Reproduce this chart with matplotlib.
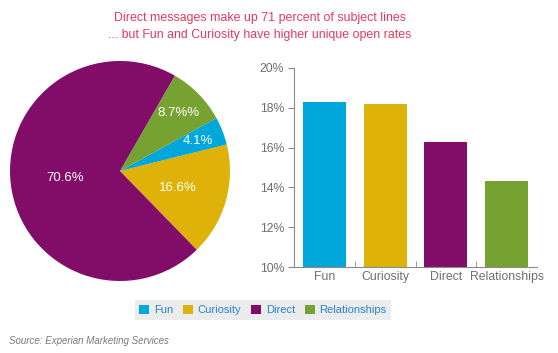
import matplotlib
matplotlib.use("Agg")
import matplotlib.pyplot as plt
import numpy as np
from matplotlib.patches import Patch

plt.rcParams["font.family"] = ["Liberation Sans", "DejaVu Sans"]

# pie: share of subject lines (counter-clockwise from lower right)
PIE_CATS = ["Curiosity", "Fun", "Relationships", "Direct"]
PIE_VALUES = [16.6, 4.1, 8.7, 70.6]
PIE_LABELS = ["16.6%", "4.1%", "8.7%%", "70.6%"]

# bars: unique open rate
BAR_CATS = ["Fun", "Curiosity", "Direct", "Relationships"]
BAR_VALUES = [18.3, 18.2, 16.3, 14.3]
Y_TICKS = [10, 12, 14, 16, 18, 20]

COLORS = {
    "Fun": "#00A7DA",
    "Curiosity": "#DEB208",
    "Direct": "#820D69",
    "Relationships": "#76A232",
}
TITLE_COLOR = "#E6395E"
AXIS_GRAY = "#8A8A8A"
TEXT_GRAY = "#6E6E6E"

W, H = 558, 353
fig = plt.figure(figsize=(W / 100, H / 100), dpi=100)
fig.patch.set_facecolor("white")

fig.text(260 / W, 1 - 18 / H, "Direct messages make up 71 percent of subject lines",
         ha="center", va="center", color=TITLE_COLOR, fontsize=8.9)
fig.text(260 / W, 1 - 35 / H, "... but Fun and Curiosity have higher unique open rates",
         ha="center", va="center", color=TITLE_COLOR, fontsize=8.9)

# ---- pie ----
ax_pie = fig.add_axes([10 / W, (H - 281) / H, 220 / W, 220 / H])
start = 14.0 - PIE_VALUES[0] * 3.6
wedges, _ = ax_pie.pie(PIE_VALUES, colors=[COLORS[c] for c in PIE_CATS],
                       startangle=start, counterclock=True,
                       wedgeprops=dict(linewidth=0))
ax_pie.set_aspect("equal")
ax_pie.set_xlim(-1, 1)
ax_pie.set_ylim(-1, 1)
label_r = [0.55, 0.76, 0.75, 0.5]
for w, lab, r in zip(wedges, PIE_LABELS, label_r):
    mid = np.deg2rad((w.theta1 + w.theta2) / 2)
    ax_pie.text(r * np.cos(mid), r * np.sin(mid), lab, ha="center", va="center",
                color="white", fontsize=9.5)

# ---- bars ----
ax = fig.add_axes([294 / W, (H - 267) / H, 243 / W, 199 / H])
x = np.arange(len(BAR_CATS))
ax.bar(x, BAR_VALUES, width=0.71, color=[COLORS[c] for c in BAR_CATS], bottom=0)
ax.set_xlim(-0.5, len(BAR_CATS) - 0.5)
ax.set_ylim(Y_TICKS[0], Y_TICKS[-1])
ax.set_yticks(Y_TICKS)
ax.set_yticklabels([f"{t}%" for t in Y_TICKS])
ax.set_xticks(x)
ax.set_xticklabels(BAR_CATS)
ax.set_xticks(x[:-1] + 0.5, minor=True)
ax.tick_params(axis="x", which="major", length=0, pad=3, labelsize=8.8, colors=TEXT_GRAY)
ax.tick_params(axis="x", which="minor", direction="in", length=4, color=AXIS_GRAY)
ax.tick_params(axis="y", direction="out", length=4, color=AXIS_GRAY,
               labelsize=8.8, labelcolor=TEXT_GRAY, pad=3)
for s in ("top", "right"):
    ax.spines[s].set_visible(False)
for s in ("left", "bottom"):
    ax.spines[s].set_color(AXIS_GRAY)
    ax.spines[s].set_linewidth(0.8)

# ---- legend ----
handles = [Patch(facecolor=COLORS[c], edgecolor="none") for c in BAR_CATS]
leg = fig.legend(handles, BAR_CATS, loc="center", bbox_to_anchor=(263 / W, 1 - 310 / H),
                 ncol=4, frameon=True, fancybox=False, fontsize=8,
                 handlelength=0.9, handleheight=0.95, handletextpad=0.4,
                 columnspacing=0.9, borderpad=0.4, borderaxespad=0,
                 labelcolor="#2B82C4")
leg.get_frame().set_facecolor("#E6E8EA")
leg.get_frame().set_edgecolor("none")

fig.text(9 / W, 1 - 341 / H, "Source: Experian Marketing Services", ha="left", va="center",
         style="italic", color="#7A7A7A", fontsize=7)

fig.savefig("out.png", dpi=100, facecolor="white")
